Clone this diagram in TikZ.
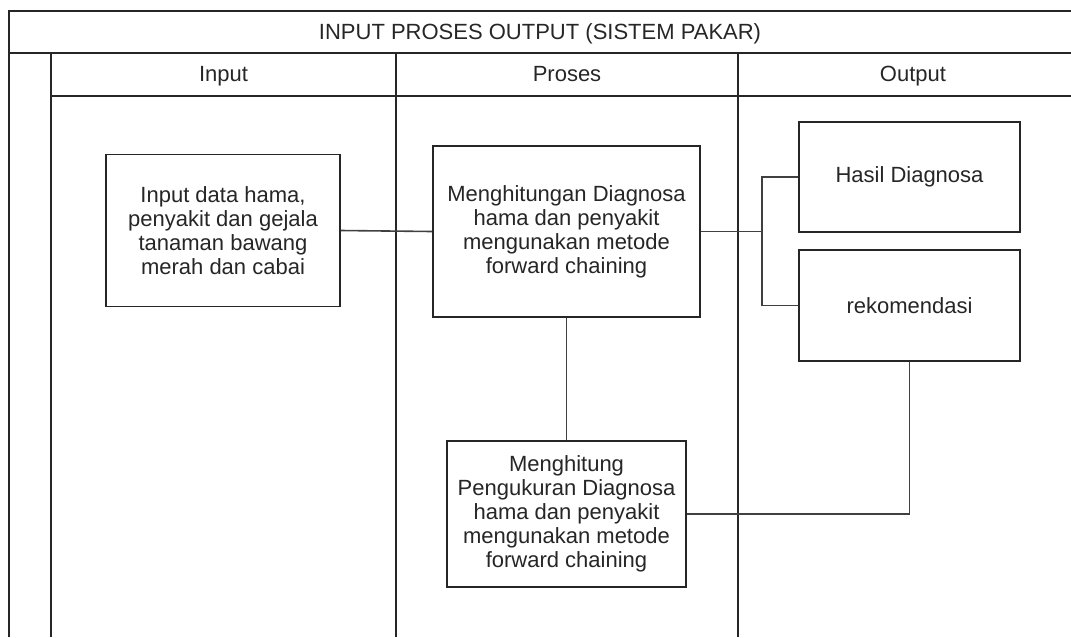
\documentclass[tikz,border=0pt]{standalone}
\usepackage{fontspec}
\setmainfont{Liberation Sans}
\begin{document}
\begin{tikzpicture}[x=0.75pt,y=-0.75pt,
  frame/.style={line width=1.2pt,draw=black!85},
  lbl/.style={font=\fontsize{16.5}{18}\selectfont,text=black!85,inner sep=0pt,anchor=base},
  box/.style={draw=black!85,line width=1.2pt,fill=white,align=center,inner sep=0pt,
    font=\fontsize{16.5}{18}\selectfont,text=black!85},
  link/.style={line width=1.2pt,draw=black!75}]
\useasboundingbox (0,0) rectangle (1071,637);
% pool frame
\draw[frame] (1071,11) -- (9,11) -- (9,637);
\draw[frame] (9,53) -- (1071,53);
\draw[frame] (51,53) -- (51,637);
\draw[frame] (51,96) -- (1071,96);
\draw[frame] (396,53) -- (396,637);
\draw[frame] (738,53) -- (738,637);
\node[lbl] (title) at (540,39) {INPUT PROSES OUTPUT (SISTEM PAKAR)};
\node[lbl] (lin) at (223.5,81) {Input};
\node[lbl] (lpr) at (567,81) {Proses};
\node[lbl] (lout) at (913,81) {Output};
% boxes
\node[box,minimum width=175.5pt,minimum height=114pt] (inp) at (223,230.5)
  {Input data hama,\\penyakit dan gejala\\tanaman bawang\\merah dan cabai};
\node[box,minimum width=200.25pt,minimum height=128.25pt] (hit) at (566.5,231.5)
  {Menghitungan Diagnosa\\hama dan penyakit\\mengunakan metode\\forward chaining};
\node[box,minimum width=165.75pt,minimum height=82.5pt] (has) at (909.5,177)
  {Hasil Diagnosa};
\node[box,minimum width=165.75pt,minimum height=83.25pt] (rek) at (909.5,305.5)
  {rekomendasi};
\node[box,minimum width=179.25pt,minimum height=109.5pt] (ukur) at (566.5,514)
  {Menghitung\\Pengukuran Diagnosa\\hama dan penyakit\\mengunakan metode\\forward chaining};
% connectors
\coordinate (j) at (762,231.5);
\draw[link] (inp.east) -- (hit.west);
\draw[link] (hit.east) -- (j) |- (has.west);
\draw[link] (j) |- (rek.west);
\draw[link] (hit.south) -- (ukur.north);
\draw[link] (ukur.east) -| (rek.south);
\end{tikzpicture}
\end{document}
